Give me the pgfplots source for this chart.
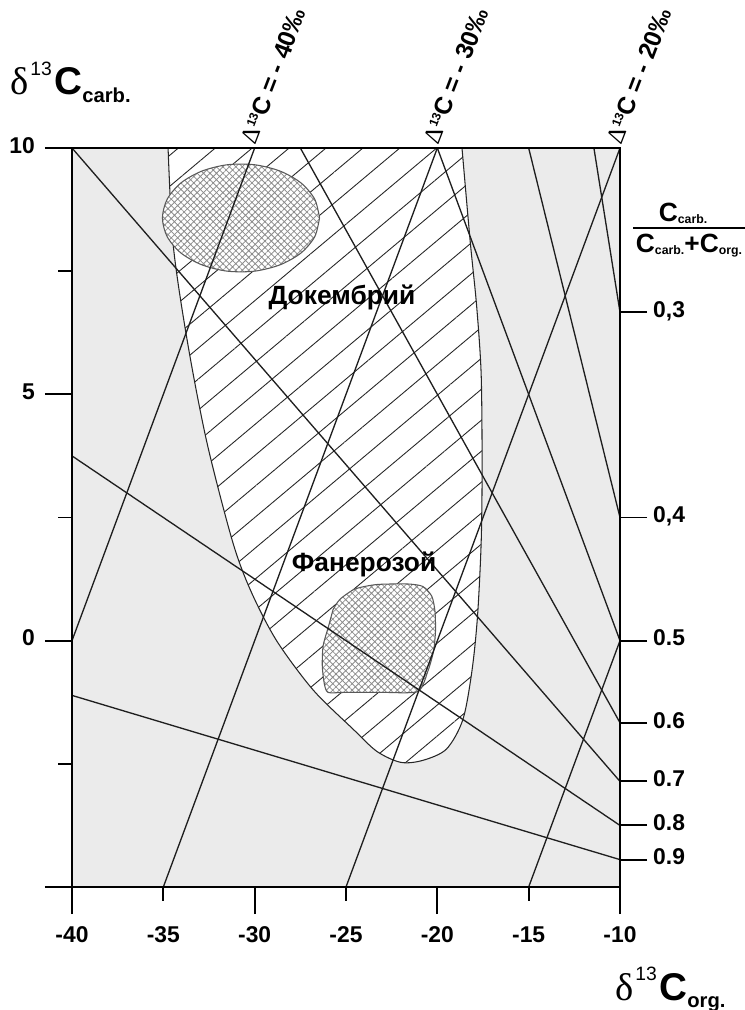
\documentclass[border=0pt]{standalone}
\usepackage{fontspec}
\setmainfont{Liberation Sans}
\newfontfamily\grk{Liberation Serif}
\usepackage{pgfplots}
\usepackage{pgfplotstable}
\pgfplotsset{compat=1.18}
\usetikzlibrary{patterns.meta}
\definecolor{bggray}{RGB}{235,235,235}
\definecolor{lnc}{RGB}{30,30,30}

% outline of the Precambrian / Phanerozoic field
\pgfplotstableread{
x y
-34.74 10
-34.45 8
-33.65 6
-32.60 4
-31.20 2
-30.20 1
-28.80 0
-26.80 -1
-24.60 -1.8
-23.30 -2.25
-22.00 -2.47
-20.80 -2.43
-19.50 -2.20
-18.60 -1.60
-18.10 -0.60
-17.80 0.50
-17.60 2.00
-17.55 3.50
-17.60 5.40
-17.85 6.80
-18.20 8.10
-18.65 10
}\field

% Precambrian core
\pgfplotstableread{
x y
-26.45 8.58
-26.71 8.96
-27.46 9.29
-28.60 9.53
-30.00 9.66
-31.50 9.66
-32.90 9.53
-34.04 9.29
-34.79 8.96
-35.05 8.58
-34.79 8.20
-34.04 7.87
-32.90 7.63
-31.50 7.50
-30.00 7.50
-28.60 7.63
-27.46 7.87
-26.71 8.20
-26.45 8.58
}\precamb

% Phanerozoic core
\pgfplotstableread{
x y
-25.71 0.63
-25.33 0.84
-24.50 1.05
-23.30 1.14
-21.60 1.15
-20.79 1.10
-20.30 0.90
-20.13 0.60
-20.10 0.20
-20.20 -0.20
-20.50 -0.60
-21.06 -1.03
-22.97 -1.05
-25.06 -1.05
-25.99 -1.05
-26.20 -0.85
-26.30 -0.50
-26.25 -0.10
-25.95 0.30
-25.71 0.63
}\phaner

\pgfplotsset{
  frame/.style={at={(0,0)}, anchor=south west,
    scale only axis, width=10.96cm, height=14.78cm,
    xmin=-40, xmax=-10, ymin=-5, ymax=10,
    tick align=outside,
    typeset ticklabels with strut,
    tick style={line width=1.1pt, black},
    tick label style={font=\fontsize{13}{15}\selectfont\bfseries}},
}

\begin{document}
\begin{tikzpicture}
\useasboundingbox (-1.44,-2.46) rectangle (13.46,17.74);
\begin{axis}[
  frame,
  axis background/.style={fill=bggray},
  axis on top,
  axis line style={line width=1.1pt},
  xtick pos=left, ytick pos=left,
  xtick={-40,-30,-20,-10}, xticklabels={-40,-30,-20,-10},
  ytick={-5,0,5,10}, yticklabels={,0,5,10},
  minor ytick={-2.5,2.5,7.5},
  major tick length=0.54cm, minor tick length=0.27cm,
  xticklabel style={yshift=-0.08cm},
  yticklabel style={xshift=-0.08cm},
]
% field
\addplot[fill=white, draw=none, smooth, tension=0.5] table {\field} -- cycle;
\addplot[pattern={Lines[angle=40, distance=13.5pt, line width=0.5pt]}, pattern color=black!85,
  draw=black!85, line width=0.6pt, smooth, tension=0.5] table {\field} -- cycle;
% cores
\addplot[fill=white, draw=none, smooth, tension=0.5] table {\precamb} -- cycle;
\addplot[pattern={Hatch[angle=45, distance=2.6pt, line width=0.45pt]}, pattern color=black!45,
  draw=black!65, line width=0.6pt, smooth, tension=0.5] table {\precamb} -- cycle;
\addplot[fill=white, draw=none, smooth, tension=0.4] table {\phaner} -- cycle;
\addplot[pattern={Hatch[angle=45, distance=2.6pt, line width=0.45pt]}, pattern color=black!45,
  draw=black!65, line width=0.6pt, smooth, tension=0.4] table {\phaner} -- cycle;
% Delta 13C lines
\addplot[lnc, line width=0.75pt] coordinates {(-40,0) (-30,10)};
\addplot[lnc, line width=0.75pt] coordinates {(-35,-5) (-20,10)};
\addplot[lnc, line width=0.75pt] coordinates {(-25,-5) (-10,10)};
\addplot[lnc, line width=0.75pt] coordinates {(-15,-5) (-10,0)};
% Ccarb/(Ccarb+Corg) lines
\addplot[lnc, line width=0.75pt] coordinates {(-11.4286,10) (-10,6.6667)};
\addplot[lnc, line width=0.75pt] coordinates {(-15,10) (-10,2.5)};
\addplot[lnc, line width=0.75pt] coordinates {(-20,10) (-10,0)};
\addplot[lnc, line width=0.75pt] coordinates {(-27.5,10) (-10,-1.6667)};
\addplot[lnc, line width=0.75pt] coordinates {(-40,10) (-10,-2.8571)};
\addplot[lnc, line width=0.75pt] coordinates {(-40,3.75) (-10,-3.75)};
\addplot[lnc, line width=0.75pt] coordinates {(-40,-1.1111) (-10,-4.4444)};
\node[font=\fontsize{15}{17}\selectfont\bfseries] at (axis cs:-25.22,6.96) {Докембрий};
\node[font=\fontsize{15}{17}\selectfont\bfseries] at (axis cs:-24.01,1.55) {Фанерозой};
\end{axis}
% short x ticks
\begin{axis}[
  frame,
  axis line style={draw=none},
  xtick pos=left, ytick=\empty,
  xtick={-35,-25,-15}, xticklabels={-35,-25,-15},
  xtick align=outside,
  major tick length=0.27cm,
  xticklabel style={yshift=-0.35cm},
]
\end{axis}
% right scale
\begin{axis}[
  frame,
  axis line style={draw=none},
  xtick=\empty, ytick pos=right,
  ytick={6.6667,2.5,0,-1.6667,-2.8571,-3.75,-4.4444},
  yticklabels={{0,3},{0,4},0.5,0.6,0.7,0.8,0.9},
  ytick align=outside,
  major tick length=0.54cm,
]
\end{axis}
% axis titles
\node[anchor=base west, inner sep=0] at (-1.24,15.84)
  {{\grk\fontsize{22}{24}\selectfont δ}\hspace{1pt}\raisebox{11pt}{\fontsize{11}{11}\selectfont 13}\hspace{1.5pt}{\fontsize{22}{24}\selectfont\bfseries C}\raisebox{-4.5pt}{\fontsize{11.5}{12}\selectfont\bfseries carb.}};
\node[anchor=base west, inner sep=0] at (10.86,-2.26)
  {{\grk\fontsize{22}{24}\selectfont δ}\hspace{1pt}\raisebox{11pt}{\fontsize{11}{11}\selectfont 13}\hspace{1.5pt}{\fontsize{22}{24}\selectfont\bfseries C}\raisebox{-4.5pt}{\fontsize{11.5}{12}\selectfont\bfseries org.}};
% fraction on the right
\node[anchor=base, inner sep=0] at (12.22,13.30)
  {\fontsize{15}{16}\selectfont\bfseries C\raisebox{-1pt}{\fontsize{7}{7}\selectfont carb.}};
\draw[line width=1.1pt] (11.22,13.18) -- (13.46,13.18);
\node[anchor=base, inner sep=0] at (12.34,12.68)
  {\fontsize{15}{16}\selectfont\bfseries C\raisebox{-1pt}{\fontsize{7}{7}\selectfont carb.}+C\raisebox{-1pt}{\fontsize{7}{7}\selectfont org.}};
% Delta labels
\foreach \xx/\vv in {3.653/40, 7.307/30, 10.96/20}
  \node[rotate=69, anchor=south west, inner sep=0.5pt, font=\fontsize{14}{16}\selectfont\bfseries]
    at (\xx+0.04,14.80) {{\grk\mdseries Δ}\raisebox{4.5pt}{\fontsize{7}{7}\selectfont 13}C = - \vv‰};
\end{tikzpicture}
\end{document}
